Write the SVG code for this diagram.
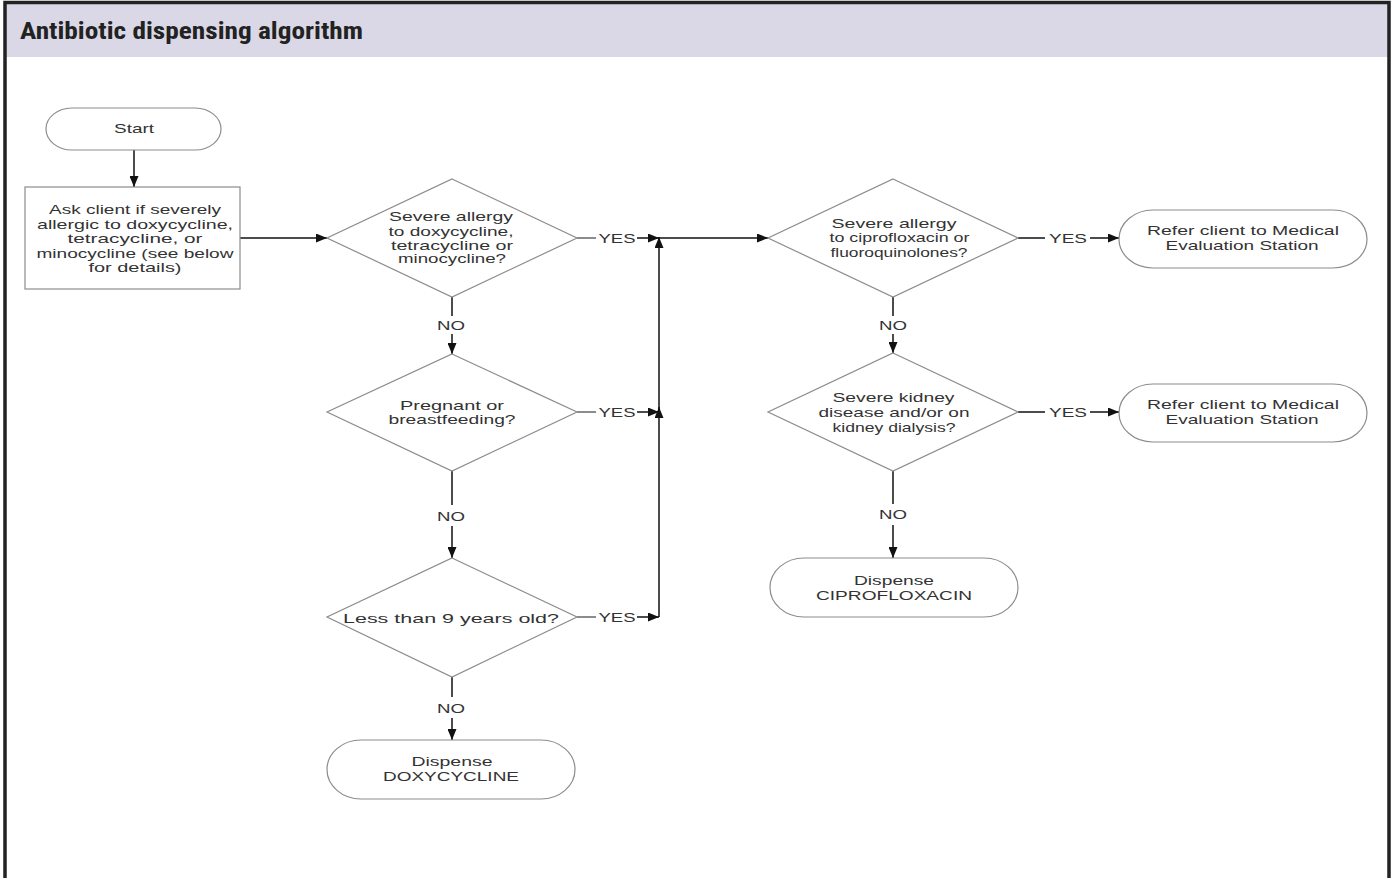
<svg xmlns="http://www.w3.org/2000/svg" width="1394" height="878" viewBox="0 0 1394 878">
<defs>
<style>
.node{fill:#fff;stroke:#8c8c8c;stroke-width:1.2}
.t{font-family:"Liberation Sans",Arial,sans-serif;font-size:13px;fill:#333;text-anchor:middle}
.lbl{font-family:"Liberation Sans",Arial,sans-serif;font-size:13px;fill:#333;text-anchor:middle}
.c{fill:none;stroke:#111;stroke-width:1.5}
.cg{fill:none;stroke:#666;stroke-width:1.5}
</style>
<marker id="ah" markerUnits="userSpaceOnUse" markerWidth="11" markerHeight="9" refX="11" refY="4.5" orient="auto">
<path d="M0,0 L11,4.5 L0,9 z" fill="#111"/>
</marker>
</defs>
<rect x="0" y="0" width="1394" height="878" fill="#fff"/>
<rect x="5" y="3" width="1384" height="54" fill="#dad8e6"/>
<path d="M5,878 V2.5 H1389 V878" fill="none" stroke="#222" stroke-width="3.5"/>
<text x="20" y="39" font-family="'Liberation Sans Narrow','Roboto Condensed','Liberation Sans',sans-serif" font-weight="bold" font-size="23" fill="#222" textLength="343" lengthAdjust="spacingAndGlyphs">Antibiotic dispensing algorithm</text>

<g id="connectors">
<path class="c" d="M134,150 V187" marker-end="url(#ah)"/>
<path class="c" d="M240,238 H327" marker-end="url(#ah)"/>
<path class="cg" d="M577,238 H596"/>
<path class="c" d="M637,238 H659" marker-end="url(#ah)"/>
<path class="cg" d="M577,412 H596"/>
<path class="c" d="M637,412 H659" marker-end="url(#ah)"/>
<path class="cg" d="M577,617 H596"/>
<path class="c" d="M637,617 H659" marker-end="url(#ah)"/>
<path class="c" d="M659,617 V407" marker-end="url(#ah)"/>
<path class="c" d="M659,412 V237" marker-end="url(#ah)"/>
<path class="c" d="M659,238 H768" marker-end="url(#ah)"/>
<path class="c" d="M452,297 V316"/>
<path class="c" d="M452,334 V354" marker-end="url(#ah)"/>
<path class="c" d="M452,471 V505"/>
<path class="c" d="M452,526 V558" marker-end="url(#ah)"/>
<path class="c" d="M452,677 V697"/>
<path class="c" d="M452,718 V740" marker-end="url(#ah)"/>
<path class="c" d="M1018,238 H1045"/>
<path class="c" d="M1090,238 H1119" marker-end="url(#ah)"/>
<path class="c" d="M893,297 V316"/>
<path class="c" d="M893,334 V353" marker-end="url(#ah)"/>
<path class="c" d="M1018,412 H1045"/>
<path class="c" d="M1090,412 H1119" marker-end="url(#ah)"/>
<path class="c" d="M893,471 V504"/>
<path class="c" d="M893,525 V558" marker-end="url(#ah)"/>
<text class="lbl" x="617" y="243" textLength="37" lengthAdjust="spacingAndGlyphs">YES</text>
<text class="lbl" x="617" y="417" textLength="37" lengthAdjust="spacingAndGlyphs">YES</text>
<text class="lbl" x="617" y="622" textLength="37" lengthAdjust="spacingAndGlyphs">YES</text>
<text class="lbl" x="1068" y="243" textLength="38" lengthAdjust="spacingAndGlyphs">YES</text>
<text class="lbl" x="1068" y="417" textLength="38" lengthAdjust="spacingAndGlyphs">YES</text>
<text class="lbl" x="451" y="330" textLength="28" lengthAdjust="spacingAndGlyphs">NO</text>
<text class="lbl" x="451" y="521" textLength="28" lengthAdjust="spacingAndGlyphs">NO</text>
<text class="lbl" x="451" y="713" textLength="28" lengthAdjust="spacingAndGlyphs">NO</text>
<text class="lbl" x="893" y="330" textLength="28" lengthAdjust="spacingAndGlyphs">NO</text>
<text class="lbl" x="893" y="519" textLength="28" lengthAdjust="spacingAndGlyphs">NO</text>
</g>

<g id="start">
<rect class="node" x="46" y="108" width="175" height="42" rx="26" ry="21"/>
<text class="t" x="134" y="133" textLength="40" lengthAdjust="spacingAndGlyphs">Start</text>
</g>

<g id="ask">
<rect class="node" x="25" y="187" width="215" height="102"/>
<text class="t" x="135" y="214" textLength="172" lengthAdjust="spacingAndGlyphs">Ask client if severely</text>
<text class="t" x="135" y="228.5" textLength="196" lengthAdjust="spacingAndGlyphs">allergic to doxycycline,</text>
<text class="t" x="135" y="243" textLength="135" lengthAdjust="spacingAndGlyphs">tetracycline, or</text>
<text class="t" x="135" y="257.5" textLength="197" lengthAdjust="spacingAndGlyphs">minocycline (see below</text>
<text class="t" x="135" y="272" textLength="93" lengthAdjust="spacingAndGlyphs">for details)</text>
</g>

<g id="d1">
<polygon class="node" points="452,179 577,238 452,297 327,238"/>
<text class="t" x="451" y="221" textLength="124" lengthAdjust="spacingAndGlyphs">Severe allergy</text>
<text class="t" x="451" y="235.5" textLength="125" lengthAdjust="spacingAndGlyphs">to doxycycline,</text>
<text class="t" x="452" y="249.5" textLength="122" lengthAdjust="spacingAndGlyphs">tetracycline or</text>
<text class="t" x="452" y="263" textLength="108" lengthAdjust="spacingAndGlyphs">minocycline?</text>
</g>

<g id="d2">
<polygon class="node" points="452,354 577,412 452,471 327,412"/>
<text class="t" x="452" y="409.5" textLength="104" lengthAdjust="spacingAndGlyphs">Pregnant or</text>
<text class="t" x="452" y="424" textLength="127" lengthAdjust="spacingAndGlyphs">breastfeeding?</text>
</g>

<g id="d3">
<polygon class="node" points="452,558 577,617 452,677 327,617"/>
<text class="t" x="451" y="622.5" textLength="216" lengthAdjust="spacingAndGlyphs">Less than 9 years old?</text>
</g>

<g id="doxy">
<rect class="node" x="327" y="740" width="248" height="59" rx="34" ry="29.5"/>
<text class="t" x="452" y="766" textLength="81" lengthAdjust="spacingAndGlyphs">Dispense</text>
<text class="t" x="451" y="781" textLength="136" lengthAdjust="spacingAndGlyphs">DOXYCYCLINE</text>
</g>

<g id="dA">
<polygon class="node" points="893,179 1018,238 893,297 768,238"/>
<text class="t" x="894" y="227.5" textLength="125" lengthAdjust="spacingAndGlyphs">Severe allergy</text>
<text class="t" x="899.5" y="242" textLength="140" lengthAdjust="spacingAndGlyphs">to ciprofloxacin or</text>
<text class="t" x="899" y="256.5" textLength="137" lengthAdjust="spacingAndGlyphs">fluoroquinolones?</text>
</g>

<g id="referA">
<rect class="node" x="1119" y="210" width="248" height="58" rx="34" ry="29"/>
<text class="t" x="1243" y="234.5" textLength="192" lengthAdjust="spacingAndGlyphs">Refer client to Medical</text>
<text class="t" x="1242" y="249.5" textLength="153" lengthAdjust="spacingAndGlyphs">Evaluation Station</text>
</g>

<g id="dB">
<polygon class="node" points="893,353 1018,412 893,471 768,412"/>
<text class="t" x="893.5" y="401.5" textLength="122" lengthAdjust="spacingAndGlyphs">Severe kidney</text>
<text class="t" x="894" y="416.5" textLength="151" lengthAdjust="spacingAndGlyphs">disease and/or on</text>
<text class="t" x="894" y="431.5" textLength="123" lengthAdjust="spacingAndGlyphs">kidney dialysis?</text>
</g>

<g id="referB">
<rect class="node" x="1119" y="384" width="248" height="58" rx="34" ry="29"/>
<text class="t" x="1243" y="408.5" textLength="192" lengthAdjust="spacingAndGlyphs">Refer client to Medical</text>
<text class="t" x="1242" y="423.5" textLength="153" lengthAdjust="spacingAndGlyphs">Evaluation Station</text>
</g>

<g id="cipro">
<rect class="node" x="770" y="558" width="248" height="59" rx="34" ry="29.5"/>
<text class="t" x="894" y="584.5" textLength="80" lengthAdjust="spacingAndGlyphs">Dispense</text>
<text class="t" x="894" y="600" textLength="156" lengthAdjust="spacingAndGlyphs">CIPROFLOXACIN</text>
</g>
</svg>
